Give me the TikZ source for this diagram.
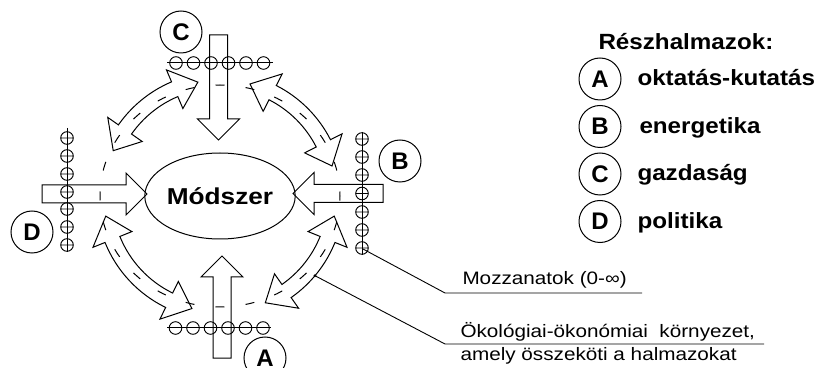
\documentclass[tikz,border=0pt]{standalone}
\usepackage{fontspec}
\setmainfont{Liberation Sans}
\usetikzlibrary{shapes.geometric,calc}

% hollow block arrow: start x, start y, direction, length
\newcommand\blockarrow[4]{%
  \draw[shift={(#1,#2)},rotate=#3] (0,-9) -- ({#4-21},-9) -- ({#4-21},-21)
    -- (#4,0) -- ({#4-21},21) -- ({#4-21},9) -- (0,9) -- cycle;}

% hollow double-headed arc arrow around the centre, from angle #1 to #2
\newcommand\arcarrow[2]{%
  \draw[shift={(220,171)}] (#1:116pt) -- ({#1+12}:137pt) -- ({#1+12}:124pt)
    arc[start angle={#1+12}, end angle={#2-12}, radius=124pt]
    -- ({#2-12}:137pt) -- (#2:116pt) -- ({#2-12}:95pt) -- ({#2-12}:108pt)
    arc[start angle={#2-12}, end angle={#1+12}, radius=108pt]
    -- ({#1+12}:95pt) -- cycle;}

\begin{document}
\begin{tikzpicture}[x=1pt,y=1pt,line width=1pt,
  lbl/.style={draw,circle,minimum size=42pt,inner sep=0pt,
    font=\fontsize{24}{24}\selectfont\bfseries},
  legtext/.style={anchor=base west,inner sep=0pt,
    font=\fontsize{22}{22}\selectfont\bfseries},
  note/.style={anchor=base west,inner sep=0pt,
    font=\fontsize{18}{18}\selectfont},
  ring/.style={dash pattern=on 9pt off 21.25pt,dash phase=4.5pt},
  bead/.style={line width=0.9pt}]
\useasboundingbox (0,0) rectangle (825,367);

% centre
\node[draw,ellipse,minimum width=134pt,minimum height=86pt,inner sep=0pt,
  font=\fontsize{23}{23}\selectfont\bfseries] (m) at (220,171)
  {\scalebox{1.14}[1]{Módszer}};

% dashed environment ring
\draw[ring] (m.center) ellipse[x radius=120pt, y radius=111pt];

% block arrows of the four subsets
\blockarrow{218.5}{332}{-90}{105}
\blockarrow{222}{9}{90}{102}
\blockarrow{42}{173}{0}{105}
\blockarrow{383}{173.5}{180}{90}

% arc arrows between the subsets
\arcarrow{101}{157}
\arcarrow{15}{75}
\arcarrow{190}{256}
\arcarrow{293}{350}

% strings of moments
\draw (167,304) -- (273,304);
\foreach \x in {176,193.5,211,228.5,246,263.5}
  \draw[bead] (\x,304) circle[radius=6.3pt];
\draw (167,39) -- (271,39);
\foreach \x in {175.5,193,210.5,228,245.5,263}
  \draw[bead] (\x,39) circle[radius=6.3pt];
\draw (362,235) -- (362,112);
\foreach \y in {228,210,192,173.5,155,137,119}
  \draw[bead] (362,\y) circle[radius=6.3pt] ({362-6.3},\y) -- ({362+6.3},\y);
\draw (67,239) -- (67,115);
\foreach \y in {229,211,193,175,158,140,122}
  \draw[bead] (67,\y) circle[radius=6.3pt] ({67-6.3},\y) -- ({67+6.3},\y);

% subset labels
\node[lbl] (cC) at (181,335) {C};
\node[lbl] (cB) at (400,206) {B};
\node[lbl] (cD) at (32,135) {D};
\node[lbl] (cA) at (265,9) {A};

% legend
\node[legtext] (title) at (598,317) {\scalebox{1.1}[1]{Részhalmazok:}};
\node[lbl] (lA) at (600,288) {A};
\node[lbl] (lB) at (600,240.5) {B};
\node[lbl] (lC) at (600,193) {C};
\node[lbl] (lD) at (600,145.5) {D};
\node[legtext] (tA) at (637,281) {\scalebox{1.1}[1]{oktatás-kutatás}};
\node[legtext] (tB) at (639,233.5) {\scalebox{1.1}[1]{energetika}};
\node[legtext] (tC) at (637,186) {\scalebox{1.1}[1]{gazdaság}};
\node[legtext] (tD) at (637,138.5) {\scalebox{1.1}[1]{politika}};

% annotations
\node[note] (mozz) at (462,82) {\scalebox{1.15}[1]{Mozzanatok (0-∞)}};
\node[note] (oko1) at (460,30) {\scalebox{1.15}[1]{Ökológiai-ökonómiai\ \ környezet,}};
\node[note] (oko2) at (460,7) {\scalebox{1.15}[1]{amely összeköti a halmazokat}};

\coordinate (beadEnd) at (363,118);
\coordinate (u1) at (445,74);
\coordinate (u1e) at (642,74);
\coordinate (ringPt) at ($(220,171)+(320:124pt)$);
\coordinate (u2) at (445,23);
\coordinate (u2e) at (764,23);
\draw[line width=0.9pt] (beadEnd) -- (u1) -- (u1e);
\draw[line width=0.9pt] (ringPt) -- (u2) -- (u2e);
\fill (ringPt) circle[radius=1.5pt];
\end{tikzpicture}
\end{document}
